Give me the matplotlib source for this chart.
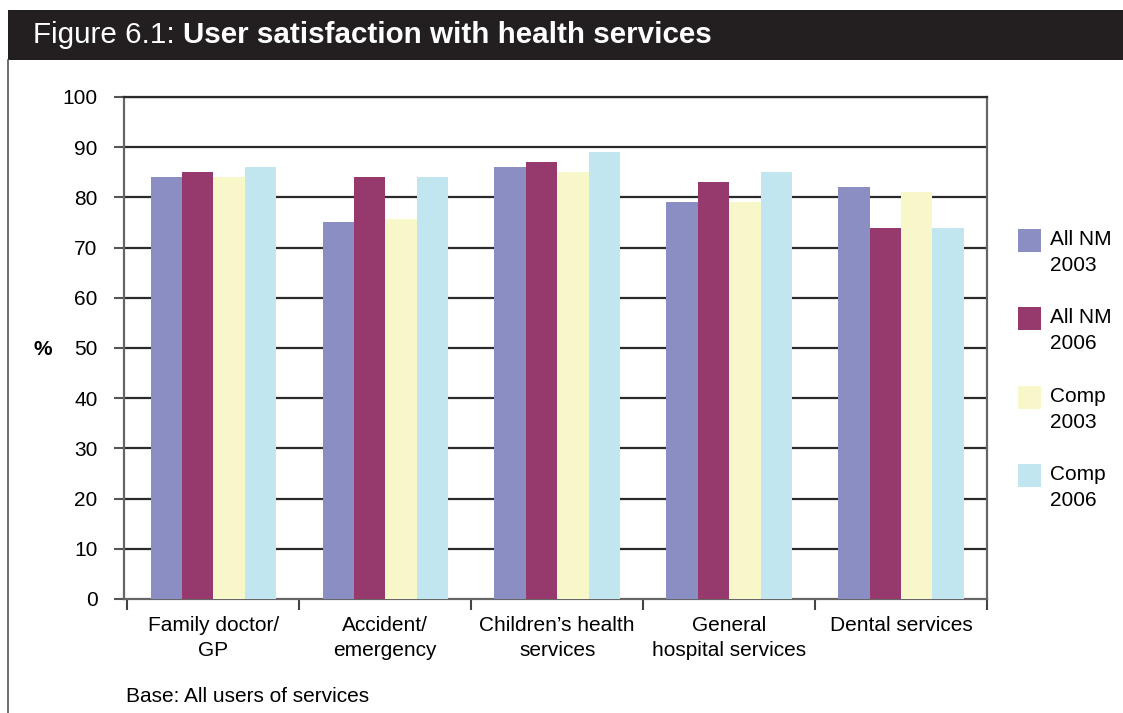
import matplotlib
matplotlib.use("Agg")
import matplotlib.pyplot as plt
from matplotlib.patches import Rectangle
import numpy as np

plt.rcParams['font.family'] = ['Liberation Sans', 'DejaVu Sans']

categories = ["Family doctor/\nGP", "Accident/\nemergency", "Children\u2019s health\nservices",
              "General\nhospital services", "Dental services"]
series_names = ["All NM\n2003", "All NM\n2006", "Comp\n2003", "Comp\n2006"]
all_nm_2003 = [84, 75, 86, 79, 82]
all_nm_2006 = [85, 84, 87, 83, 74]
comp_2003 = [84, 75.6, 85, 79, 81]
comp_2006 = [86, 84, 89, 85, 74]
series = [all_nm_2003, all_nm_2006, comp_2003, comp_2006]
colors = ["#8a8ec3", "#963a6e", "#f8f7c9", "#c2e6ef"]
yticks = list(range(0, 101, 10))

W, H = 1123, 713
fig = plt.figure(figsize=(W / 100, H / 100), dpi=100)

# title band
fig.patches.append(Rectangle((8 / W, 1 - 60 / H), 1 - 8 / W, 50 / H, transform=fig.transFigure,
                             facecolor="#231f20", edgecolor="none", zorder=0))
fig.add_artist(plt.Line2D([8 / W, 8 / W], [0, 1 - 60 / H], transform=fig.transFigure,
                          color="#555555", lw=1.2))
t1 = fig.text(33 / W, 1 - 35 / H, "Figure 6.1: ", color="white", fontsize=21.3, va="center", ha="left")
fig.canvas.draw()
bb = t1.get_window_extent()
fig.text(bb.x1 / W, 1 - 35 / H, "User satisfaction with health services", color="white",
         fontsize=21.3, fontweight="bold", va="center", ha="left")

ax = fig.add_axes([124 / W, 1 - 599 / H, (987 - 124) / W, (599 - 97) / H])
x = np.arange(len(categories))
bw = 0.1825
for i, (vals, c) in enumerate(zip(series, colors)):
    ax.bar(x + (i - 1.5) * bw, vals, width=bw, color=c, zorder=3, linewidth=0)

ax.set_xlim(-0.52, 4.48)
ax.set_ylim(0, 100)
ax.set_yticks(yticks)
ax.set_yticklabels([str(v) for v in yticks])
for v in yticks[1:]:
    ax.axhline(v, color="#2b2b2b", lw=1.6, zorder=1)
ax.set_xticks(x)
ax.set_xticklabels(categories, fontsize=15, linespacing=1.45)
ax.set_xticks(np.arange(-0.5, 5, 1), minor=True)
ax.tick_params(axis="x", which="major", length=0, pad=12)
ax.tick_params(axis="x", which="minor", length=8, width=1.5, color="#444444", direction="out")
ax.tick_params(axis="y", length=7, width=1.5, color="#555555", direction="out", labelsize=15, pad=12)
for s in ["left", "bottom", "right", "top"]:
    ax.spines[s].set_color("#666666")
    ax.spines[s].set_linewidth(1.6)
ax.spines["top"].set_color("#2b2b2b")

fig.text(43 / W, 1 - 350 / H, "%", fontsize=15, fontweight="bold", ha="center", va="center")
fig.text(126 / W, 1 - 697 / H, "Base: All users of services", fontsize=15, ha="left", va="center")

# legend
leg_y = [229, 307, 386, 464]
for name, c, y in zip(series_names, colors, leg_y):
    fig.patches.append(Rectangle((1018 / W, 1 - (y + 23) / H), 23 / W, 23 / H,
                                 transform=fig.transFigure, facecolor=c, edgecolor="none"))
    fig.text(1050 / W, 1 - (y + 1) / H, name, fontsize=15, ha="left", va="top", linespacing=1.45)

fig.savefig("out.png", dpi=100)
